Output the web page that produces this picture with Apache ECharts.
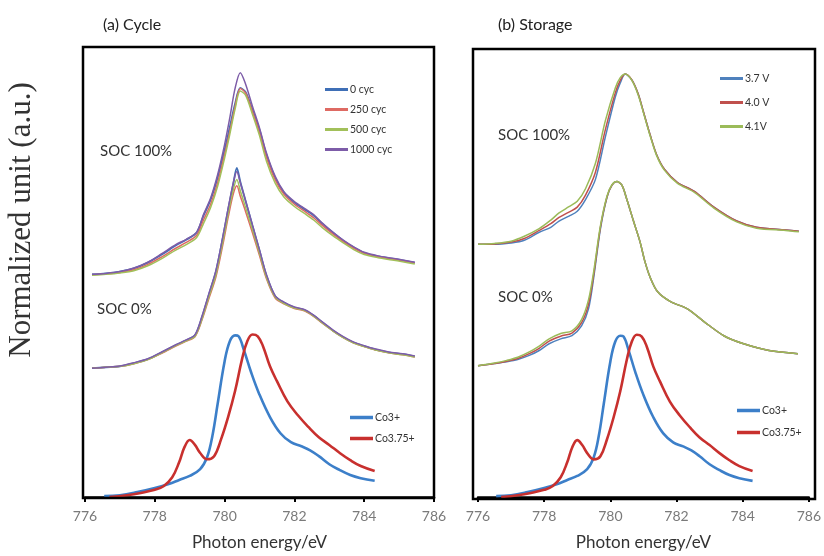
<!DOCTYPE html>
<html>
<head>
<meta charset="utf-8">
<script src="https://cdn.jsdelivr.net/npm/echarts@6/dist/echarts.min.js"></script>
<style>html,body{margin:0;padding:0;background:#fff}#c{width:824px;height:556px}</style>
</head>
<body>
<div id="c"></div>
<script>
// ---------- Data (photon energy in eV, normalized intensity in a.u. incl. vertical offset) ----------
const xTicks = [776, 778, 780, 782, 784, 786];

// Panel (a) Cycle, SOC 100%
const E_a100 = [776.2, 776.6, 777.0, 777.4, 777.8, 778.2, 778.6, 778.9, 779.2, 779.4, 779.6, 779.8, 780.0, 780.15, 780.3, 780.45, 780.6, 780.8, 781.0, 781.2, 781.45, 781.7, 782.0, 782.3, 782.55, 782.8, 783.1, 783.4, 783.7, 784.0, 784.4, 784.8, 785.1, 785.45];
const a100_0cyc    = [4.96, 4.98, 5.02, 5.09, 5.22, 5.40, 5.60, 5.73, 5.89, 6.27, 6.62, 7.11, 7.73, 8.24, 8.76, 9.11, 9.02, 8.62, 8.18, 7.62, 7.11, 6.78, 6.56, 6.40, 6.27, 6.09, 5.89, 5.71, 5.56, 5.44, 5.36, 5.31, 5.27, 5.22];
const a100_250cyc  = [4.95, 4.97, 5.00, 5.06, 5.18, 5.35, 5.54, 5.67, 5.83, 6.18, 6.52, 7.00, 7.63, 8.15, 8.70, 9.10, 9.00, 8.58, 8.12, 7.56, 7.06, 6.74, 6.52, 6.36, 6.22, 6.05, 5.86, 5.69, 5.54, 5.43, 5.35, 5.30, 5.26, 5.21];
const a100_500cyc  = [4.94, 4.96, 4.99, 5.04, 5.15, 5.31, 5.50, 5.62, 5.78, 6.10, 6.45, 6.92, 7.55, 8.08, 8.64, 9.04, 8.95, 8.52, 8.05, 7.48, 6.99, 6.68, 6.47, 6.31, 6.17, 6.00, 5.82, 5.66, 5.51, 5.40, 5.33, 5.28, 5.24, 5.19];
const a100_1000cyc = [4.96, 4.98, 5.02, 5.10, 5.23, 5.42, 5.62, 5.74, 5.90, 6.30, 6.66, 7.18, 7.85, 8.45, 9.10, 9.45, 9.20, 8.70, 8.22, 7.66, 7.14, 6.80, 6.58, 6.42, 6.29, 6.10, 5.90, 5.72, 5.57, 5.45, 5.37, 5.32, 5.28, 5.23];

// Panel (a) Cycle, SOC 0%
const E_a0 = [776.2, 776.6, 777.0, 777.4, 777.8, 778.2, 778.6, 778.9, 779.15, 779.35, 779.55, 779.75, 779.95, 780.1, 780.25, 780.35, 780.45, 780.6, 780.8, 781.0, 781.2, 781.45, 781.7, 782.0, 782.3, 782.55, 782.8, 783.1, 783.4, 783.7, 784.0, 784.3, 784.7, 785.1, 785.45];
const a0_0cyc    = [2.87, 2.89, 2.91, 2.98, 3.07, 3.22, 3.38, 3.49, 3.60, 4.00, 4.51, 5.02, 5.78, 6.40, 6.98, 7.33, 7.02, 6.60, 6.04, 5.49, 4.93, 4.47, 4.33, 4.22, 4.16, 4.04, 3.89, 3.71, 3.56, 3.44, 3.36, 3.29, 3.22, 3.18, 3.13];
const a0_250cyc  = [2.87, 2.89, 2.91, 2.97, 3.06, 3.20, 3.36, 3.47, 3.57, 3.94, 4.42, 4.90, 5.62, 6.22, 6.75, 6.93, 6.70, 6.36, 5.88, 5.38, 4.86, 4.43, 4.30, 4.20, 4.14, 4.02, 3.87, 3.70, 3.55, 3.43, 3.35, 3.28, 3.21, 3.17, 3.12];
const a0_500cyc  = [2.87, 2.89, 2.91, 2.97, 3.06, 3.21, 3.37, 3.48, 3.58, 3.96, 4.46, 4.95, 5.69, 6.30, 6.85, 7.07, 6.82, 6.45, 5.95, 5.43, 4.89, 4.45, 4.31, 4.21, 4.15, 4.03, 3.88, 3.70, 3.55, 3.43, 3.35, 3.28, 3.21, 3.17, 3.12];
const a0_1000cyc = [2.87, 2.89, 2.92, 2.99, 3.08, 3.23, 3.39, 3.50, 3.61, 4.02, 4.53, 5.04, 5.80, 6.42, 7.00, 7.25, 7.00, 6.60, 6.05, 5.50, 4.95, 4.48, 4.34, 4.23, 4.17, 4.05, 3.90, 3.72, 3.57, 3.45, 3.37, 3.30, 3.23, 3.19, 3.14];

// Reference spectra (both panels)
const E_co3 = [776.55, 777.0, 777.5, 778.0, 778.4, 778.7, 779.0, 779.3, 779.5, 779.65, 779.8, 780.0, 780.15, 780.3, 780.4, 780.55, 780.75, 781.0, 781.3, 781.6, 781.9, 782.2, 782.45, 782.7, 783.0, 783.3, 783.6, 783.9, 784.3];
const co3 = [0.02, 0.04, 0.11, 0.20, 0.29, 0.38, 0.47, 0.62, 0.89, 1.36, 2.07, 3.02, 3.47, 3.60, 3.58, 3.28, 2.80, 2.28, 1.78, 1.42, 1.22, 1.13, 1.04, 0.91, 0.73, 0.60, 0.49, 0.42, 0.36];
const E_co375 = [776.7, 777.2, 777.6, 778.0, 778.25, 778.5, 778.7, 778.85, 779.0, 779.15, 779.3, 779.5, 779.7, 779.9, 780.1, 780.3, 780.5, 780.65, 780.8, 780.95, 781.1, 781.3, 781.5, 781.8, 782.1, 782.4, 782.7, 783.0, 783.3, 783.6, 783.9, 784.3];
const co375 = [0.00, 0.04, 0.09, 0.16, 0.24, 0.44, 0.78, 1.11, 1.27, 1.16, 0.98, 0.84, 0.91, 1.29, 1.78, 2.36, 3.07, 3.47, 3.62, 3.58, 3.36, 2.91, 2.58, 2.13, 1.82, 1.56, 1.33, 1.16, 0.98, 0.82, 0.69, 0.58];

// Panel (b) Storage, SOC 100%
const E_b100 = [776.0, 776.5, 777.0, 777.4, 777.85, 778.2, 778.45, 778.75, 779.0, 779.25, 779.55, 779.85, 780.15, 780.3, 780.45, 780.65, 780.84, 781.0, 781.2, 781.4, 781.64, 782.03, 782.54, 783.13, 783.82, 784.42, 785.3, 785.7];
const b100_37 = [5.64, 5.64, 5.67, 5.73, 5.91, 6.02, 6.16, 6.27, 6.38, 6.64, 7.09, 8.04, 8.93, 9.24, 9.44, 9.31, 9.00, 8.60, 8.09, 7.64, 7.31, 7.02, 6.82, 6.47, 6.16, 6.02, 5.96, 5.93];
const b100_40 = [5.64, 5.65, 5.69, 5.77, 5.95, 6.10, 6.24, 6.36, 6.47, 6.74, 7.25, 8.20, 9.02, 9.30, 9.44, 9.31, 9.00, 8.60, 8.09, 7.64, 7.31, 7.02, 6.82, 6.47, 6.16, 6.02, 5.96, 5.93];
const b100_41 = [5.64, 5.66, 5.71, 5.82, 5.99, 6.18, 6.34, 6.48, 6.60, 6.88, 7.45, 8.40, 9.13, 9.36, 9.44, 9.30, 8.98, 8.58, 8.07, 7.62, 7.29, 7.00, 6.80, 6.45, 6.14, 6.00, 5.95, 5.92];

// Panel (b) Storage, SOC 0%
const E_b0 = [776.0, 776.5, 776.87, 777.2, 777.55, 777.85, 778.15, 778.5, 778.84, 779.13, 779.34, 779.5, 779.7, 779.9, 780.05, 780.2, 780.35, 780.5, 780.7, 780.9, 781.04, 781.2, 781.43, 781.82, 782.33, 782.84, 783.43, 784.03, 784.8, 785.67];
const b0_37 = [2.93, 2.98, 3.02, 3.07, 3.16, 3.27, 3.42, 3.53, 3.60, 3.82, 4.20, 4.91, 5.98, 6.69, 6.96, 7.04, 6.96, 6.64, 6.16, 5.69, 5.27, 4.91, 4.58, 4.36, 4.20, 3.91, 3.60, 3.42, 3.27, 3.20];
const b0_40 = [2.93, 2.98, 3.03, 3.09, 3.20, 3.32, 3.48, 3.59, 3.66, 3.89, 4.30, 4.98, 6.02, 6.70, 6.96, 7.04, 6.96, 6.64, 6.16, 5.69, 5.27, 4.91, 4.58, 4.36, 4.20, 3.91, 3.60, 3.42, 3.27, 3.20];
const b0_41 = [2.93, 2.99, 3.05, 3.12, 3.24, 3.37, 3.53, 3.65, 3.71, 3.96, 4.40, 5.05, 6.05, 6.72, 6.97, 7.04, 6.96, 6.64, 6.16, 5.69, 5.27, 4.91, 4.58, 4.36, 4.20, 3.91, 3.60, 3.42, 3.27, 3.20];

const cycNames = ['0 cyc', '250 cyc', '500 cyc', '1000 cyc'];
const voltNames = ['3.7 V', '4.0 V', '4.1V'];
const refNames = ['Co3+', 'Co3.75+'];

// ---------- Styles ----------
const C = {
  '0 cyc': '#3F6FB6', '250 cyc': '#DE6A63', '500 cyc': '#A2C05A', '1000 cyc': '#7D5CA8',
  '3.7 V': '#4F81BD', '4.0 V': '#C0504D', '4.1V': '#9BBB59',
  'Co3+': '#3C7FC9', 'Co3.75+': '#C8302E'
};
const W = {
  '0 cyc': 1.8, '250 cyc': 1.5, '500 cyc': 1.5, '1000 cyc': 1.5,
  '3.7 V': 1.5, '4.0 V': 1.5, '4.1V': 1.5, 'Co3+': 2.6, 'Co3.75+': 2.6
};
const FONT = 'Lato, "Open Sans", sans-serif';

function zip(xs, ys) { return xs.map((x, i) => [x, ys[i]]); }
function ser(name, xs, ys, idx, sm) {
  return {
    type: 'line', name: name, xAxisIndex: idx, yAxisIndex: idx,
    data: zip(xs, ys), showSymbol: false, symbol: 'none', smooth: sm,
    lineStyle: { color: C[name], width: W[name] }, itemStyle: { color: C[name] },
    animation: false
  };
}

const series = [
  ser('0 cyc', E_a100, a100_0cyc, 0, 0.3), ser('250 cyc', E_a100, a100_250cyc, 0, 0.3),
  ser('500 cyc', E_a100, a100_500cyc, 0, 0.3), ser('1000 cyc', E_a100, a100_1000cyc, 0, 0.3),
  ser('0 cyc', E_a0, a0_0cyc, 0, 0.3), ser('250 cyc', E_a0, a0_250cyc, 0, 0.3),
  ser('500 cyc', E_a0, a0_500cyc, 0, 0.3), ser('1000 cyc', E_a0, a0_1000cyc, 0, 0.3),
  ser('Co3+', E_co3, co3, 0, 0.4), ser('Co3.75+', E_co375, co375, 0, 0.4),
  ser('3.7 V', E_b100, b100_37, 1, 0.3), ser('4.0 V', E_b100, b100_40, 1, 0.3), ser('4.1V', E_b100, b100_41, 1, 0.3),
  ser('3.7 V', E_b0, b0_37, 1, 0.3), ser('4.0 V', E_b0, b0_40, 1, 0.3), ser('4.1V', E_b0, b0_41, 1, 0.3),
  ser('Co3+', E_co3, co3, 1, 0.4), ser('Co3.75+', E_co375, co375, 1, 0.4)
];

function xAx(gi) {
  return {
    type: 'value', gridIndex: gi, min: xTicks[0], max: xTicks[xTicks.length - 1], interval: 2,
    name: 'Photon energy/eV', nameLocation: 'middle', nameGap: 37,
    nameTextStyle: { fontSize: 17, color: '#333', fontFamily: FONT },
    axisLine: { show: true, lineStyle: { color: '#000', width: 2.5 } },
    axisTick: { show: true, length: 5, lineStyle: { color: '#000', width: 2 } },
    axisLabel: { fontSize: 14, color: '#7a7a7a', margin: 12, fontFamily: FONT },
    splitLine: { show: false }
  };
}
function yAx(gi) {
  return {
    type: 'value', gridIndex: gi, min: 0, max: 10,
    axisLine: { show: false }, axisTick: { show: false }, axisLabel: { show: false }, splitLine: { show: false }
  };
}
function leg(names, left, top, gap, h) {
  return {
    data: names, orient: 'vertical', left: left, top: top, itemGap: gap, padding: 0,
    icon: 'rect', itemWidth: 23, itemHeight: h, selectedMode: false,
    textStyle: { fontSize: 10.5, color: '#333', fontFamily: FONT, padding: [0, 0, 0, -3] }
  };
}
function txt(t, x, y, size, color) {
  return {
    type: 'text', x: x, y: y, silent: true,
    style: { text: t, fontSize: size, fill: color, fontFamily: FONT, align: 'left', verticalAlign: 'middle' }
  };
}

const option = {
  animation: false,
  backgroundColor: '#fff',
  title: [
    { text: '(a) Cycle', left: 103, top: 17, padding: 0, textStyle: { fontSize: 16, fontWeight: 'normal', color: '#222', fontFamily: FONT } },
    { text: '(b) Storage', left: 498, top: 17, padding: 0, textStyle: { fontSize: 16, fontWeight: 'normal', color: '#222', fontFamily: FONT } }
  ],
  grid: [
    { left: 85, top: 48, width: 349, height: 450 },
    { left: 478, top: 49, width: 335, height: 450 }
  ],
  xAxis: [xAx(0), xAx(1)],
  yAxis: [yAx(0), yAx(1)],
  legend: [
    leg(cycNames, 325, 84, 9, 3),
    leg(voltNames, 720, 73, 13, 3),
    leg(refNames, 350, 412, 10, 3.5),
    leg(refNames, 737, 405, 11, 3.5)
  ],
  graphic: [
    { type: 'rect', silent: true, shape: { x: 83, y: 47, width: 351, height: 451 }, style: { fill: 'none', stroke: '#000', lineWidth: 2.5 }, z: 100 },
    { type: 'rect', silent: true, shape: { x: 473, y: 49, width: 342, height: 450 }, style: { fill: 'none', stroke: '#000', lineWidth: 2.5 }, z: 100 },
    { type: 'text', x: 22, y: 220, rotation: Math.PI / 2, silent: true,
      style: { text: 'Normalized unit (a.u.)', fontSize: 31, fill: '#333', fontFamily: '"Liberation Serif", "DejaVu Serif", serif', align: 'center', verticalAlign: 'middle' } },
    txt('SOC 100%', 100, 151, 15, '#333'),
    txt('SOC 0%', 97, 309, 15, '#333'),
    txt('SOC 100%', 498, 135, 15, '#333'),
    txt('SOC 0%', 498, 297, 15, '#333')
  ],
  series: series
};

const chart = echarts.init(document.getElementById('c'), null, { renderer: 'canvas' });
chart.setOption(option);
</script>
</body>
</html>
